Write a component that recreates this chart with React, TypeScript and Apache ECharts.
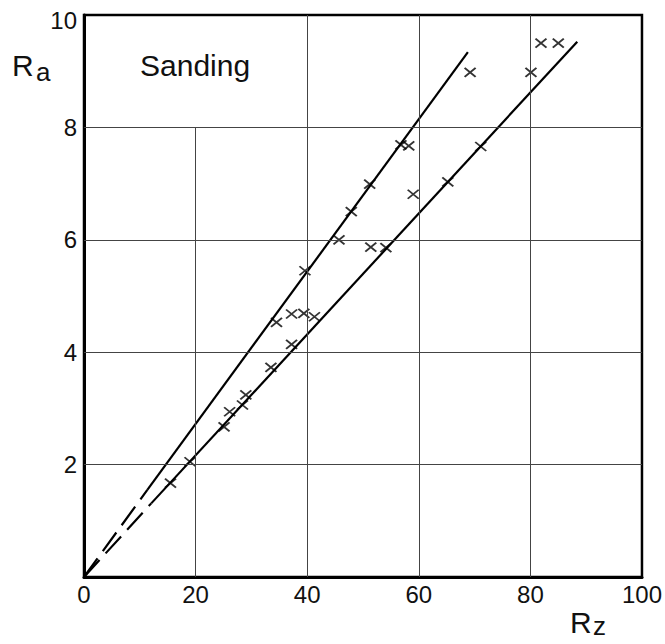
import React, { useEffect, useRef } from "react";
import * as echarts from "echarts";

const rzValues = [15.5, 19.0, 25.1, 26.1, 28.4, 29.0, 33.5, 34.5, 37.2, 37.2, 39.4, 41.3, 39.6, 45.7, 47.9, 51.2, 51.4, 54.1, 56.8, 58.2, 59.0, 65.2, 69.2, 71.1, 80.1, 81.9, 85.0];
const raValues = [1.67, 2.05, 2.67, 2.94, 3.06, 3.24, 3.73, 4.53, 4.14, 4.68, 4.69, 4.63, 5.45, 6.0, 6.5, 6.99, 5.87, 5.86, 7.69, 7.67, 6.81, 7.03, 8.98, 7.66, 8.98, 9.5, 9.5];

const upperDashed = [[0, 0], [11.35, 1.55]];
const upperSolid = [[11.35, 1.55], [68.8, 9.34]];
const lowerDashed = [[0, 0], [12.05, 1.31]];
const lowerSolid = [[12.05, 1.31], [88.4, 9.525]];

const xTicks = [0, 20, 40, 60, 80, 100];
const yTicks = [2, 4, 6, 8, 10];
const gridX = [20, 40, 60, 80];
const gridXTop = [8, 10, 10, 10];
const gridY = [2, 4, 6, 8];

const FONT = "'Liberation Sans', Arial, sans-serif";

export default function App() {
  const ref = useRef<HTMLDivElement>(null);
  useEffect(() => {
    if (!ref.current) return;
    const chart = echarts.init(ref.current, null, { renderer: "svg" });
    const gridLines: any[] = [];
    gridX.forEach((x, i) => gridLines.push([{ coord: [x, 0] }, { coord: [x, gridXTop[i]] }]));
    gridY.forEach((y) => gridLines.push([{ coord: [0, y] }, { coord: [100, y] }]));
    const lineStyle = { color: "#000", width: 2.2 };
    chart.setOption({
      animation: false,
      backgroundColor: "#fff",
      grid: { left: 84, top: 15, right: 20, bottom: 67, show: true, borderColor: "#000", borderWidth: 2.5 },
      xAxis: {
        type: "value", min: 0, max: 100, interval: 20,
        splitLine: { show: false }, axisTick: { show: false },
        axisLine: { lineStyle: { color: "#000", width: 3 } },
        axisLabel: { fontFamily: FONT, fontSize: 24, color: "#111", margin: 5,
          formatter: (v: number) => (xTicks.includes(v) ? String(v) : "") },
      },
      yAxis: {
        type: "value", min: 0, max: 10, interval: 2,
        splitLine: { show: false }, axisTick: { show: false },
        axisLine: { lineStyle: { color: "#000", width: 3 } },
        axisLabel: { fontFamily: FONT, fontSize: 24, color: "#111", margin: 7, showMinLabel: false,
          formatter: (v: number) => (v === 10 ? "{t|10}" : yTicks.includes(v) ? String(v) : ""),
          rich: { t: { fontFamily: FONT, fontSize: 24, color: "#111", padding: [10, 0, 0, 0] } } },
      },
      graphic: [
        { type: "text", left: 12, top: 50, style: { text: "R", font: `30px ${FONT}`, fill: "#111" } },
        { type: "text", left: 36, top: 59, style: { text: "a", font: `26px ${FONT}`, fill: "#111" } },
        { type: "text", left: 140, top: 50, style: { text: "Sanding", font: `30px ${FONT}`, fill: "#111" } },
        { type: "text", left: 570, top: 607, style: { text: "R", font: `30px ${FONT}`, fill: "#111" } },
        { type: "text", left: 593, top: 613, style: { text: "z", font: `26px ${FONT}`, fill: "#111" } },
      ],
      series: [
        {
          type: "line", data: upperDashed, symbol: "none", z: 3,
          lineStyle: { ...lineStyle, type: [23, 9] },
          markLine: { symbol: "none", silent: true, label: { show: false },
            lineStyle: { color: "#444", width: 1, type: "solid" }, data: gridLines },
        },
        { type: "line", data: upperSolid, symbol: "none", z: 3, lineStyle },
        { type: "line", data: lowerDashed, symbol: "none", z: 3, lineStyle: { ...lineStyle, type: [23, 9] } },
        { type: "line", data: lowerSolid, symbol: "none", z: 3, lineStyle },
        {
          type: "scatter", z: 4,
          data: rzValues.map((x, i) => [x, raValues[i]]),
          symbol: "path://M0,0L10,8M10,0L0,8", symbolSize: [11, 9],
          itemStyle: { color: "none", borderColor: "#000", borderWidth: 1.8 },
        },
      ],
    });
    return () => chart.dispose();
  }, []);
  return <div ref={ref} style={{ position: "absolute", left: 0, top: 0, width: 665, height: 644 }} />;
}
